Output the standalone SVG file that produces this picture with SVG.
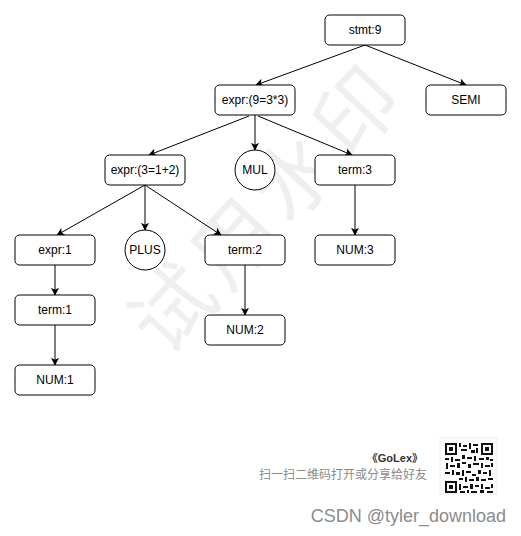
<svg xmlns="http://www.w3.org/2000/svg" width="521" height="536" viewBox="0 0 521 536">
<defs>
<marker id="arr" viewBox="0 0 10 10" refX="9" refY="5" markerWidth="8" markerHeight="8" markerUnits="userSpaceOnUse" orient="auto">
<path d="M0,0 L10,5 L0,10 L2.5,5 Z" fill="#000"/>
</marker>
<style>
.box{fill:#fff;stroke:#000;stroke-width:1}
.lbl{font-family:"Liberation Sans",Arial,sans-serif;font-size:12px;fill:#000;text-anchor:middle;dominant-baseline:central}
.edge{stroke:#000;stroke-width:1;fill:none;marker-end:url(#arr)}
.wm{font-family:"Noto Sans CJK SC",sans-serif;font-size:82px;fill:#efefef;text-anchor:middle;dominant-baseline:central}
</style>
</defs>
<rect width="521" height="536" fill="#fff"/>
<text class="wm" transform="translate(263,203) rotate(-47)" letter-spacing="8">试用水印</text>
<g id="connectors">
<line class="edge" x1="365" y1="45" x2="256" y2="85"/>
<line class="edge" x1="365" y1="45" x2="466" y2="85"/>
<line class="edge" x1="249" y1="116" x2="149" y2="155"/>
<line class="edge" x1="255" y1="115" x2="255" y2="150"/>
<line class="edge" x1="258" y1="116" x2="352" y2="155"/>
<line class="edge" x1="145" y1="185" x2="57" y2="235"/>
<line class="edge" x1="145" y1="185" x2="145" y2="230"/>
<line class="edge" x1="145" y1="185" x2="221" y2="235"/>
<line class="edge" x1="55" y1="265" x2="55" y2="295"/>
<line class="edge" x1="55" y1="325" x2="55" y2="365"/>
<line class="edge" x1="245" y1="265" x2="245" y2="315"/>
<line class="edge" x1="355" y1="185" x2="355" y2="235"/>
</g>
<g id="stmt"><rect class="box" x="325" y="15" width="80" height="30" rx="4.5"/><text class="lbl" x="365" y="30">stmt:9</text></g>
<g id="expr9"><rect class="box" x="215" y="85" width="80" height="30" rx="4.5"/><text class="lbl" x="255" y="100">expr:(9=3*3)</text></g>
<g id="semi"><rect class="box" x="426" y="85" width="80" height="30" rx="4.5"/><text class="lbl" x="466" y="100">SEMI</text></g>
<g id="expr3"><rect class="box" x="105" y="155" width="80" height="30" rx="4.5"/><text class="lbl" x="145" y="170">expr:(3=1+2)</text></g>
<g id="mul"><circle class="box" cx="255" cy="170" r="20"/><text class="lbl" x="255" y="170">MUL</text></g>
<g id="term3"><rect class="box" x="315" y="155" width="80" height="30" rx="4.5"/><text class="lbl" x="355" y="170">term:3</text></g>
<g id="expr1"><rect class="box" x="15" y="235" width="80" height="30" rx="4.5"/><text class="lbl" x="55" y="250">expr:1</text></g>
<g id="plus"><circle class="box" cx="145" cy="250" r="20"/><text class="lbl" x="145" y="250">PLUS</text></g>
<g id="term2"><rect class="box" x="205" y="235" width="80" height="30" rx="4.5"/><text class="lbl" x="245" y="250">term:2</text></g>
<g id="num3"><rect class="box" x="315" y="235" width="80" height="30" rx="4.5"/><text class="lbl" x="355" y="250">NUM:3</text></g>
<g id="term1"><rect class="box" x="15" y="295" width="80" height="30" rx="4.5"/><text class="lbl" x="55" y="310">term:1</text></g>
<g id="num2"><rect class="box" x="205" y="315" width="80" height="30" rx="4.5"/><text class="lbl" x="245" y="330">NUM:2</text></g>
<g id="num1"><rect class="box" x="15" y="365" width="80" height="30" rx="4.5"/><text class="lbl" x="55" y="380">NUM:1</text></g>
<g id="footer">
<text x="423" y="462" font-family="Liberation Sans,'Noto Sans CJK SC',sans-serif" font-size="11" font-weight="bold" fill="#333" text-anchor="end">《GoLex》</text>
<text x="427" y="479" font-family="'Noto Sans CJK SC',sans-serif" font-size="12" fill="#8a8a8a" text-anchor="end">扫一扫二维码打开或分享给好友</text>
<rect x="440" y="438" width="57" height="56" fill="#fff" stroke="#eee"/>
<g fill="#111">
<path d="M445,443h12v12h-12z M447,445v8h8v-8z M449,447h4v4h-4z" fill-rule="evenodd"/>
<path d="M481,443h12v12h-12z M483,445v8h8v-8z M485,447h4v4h-4z" fill-rule="evenodd"/>
<path d="M445,481h12v12h-12z M447,483v8h8v-8z M449,485h4v4h-4z" fill-rule="evenodd"/>
<rect x="459" y="443" width="2" height="4"/><rect x="463" y="445" width="4" height="2"/><rect x="469" y="443" width="2" height="6"/><rect x="473" y="444" width="5" height="2"/><rect x="461" y="449" width="6" height="2"/><rect x="471" y="450" width="4" height="3"/><rect x="476" y="448" width="2" height="5"/>
<rect x="445" y="458" width="4" height="2"/><rect x="451" y="457" width="2" height="5"/><rect x="455" y="459" width="5" height="2"/><rect x="462" y="455" width="3" height="4"/><rect x="467" y="457" width="5" height="2"/><rect x="474" y="456" width="2" height="5"/><rect x="479" y="458" width="5" height="2"/><rect x="486" y="457" width="3" height="3"/><rect x="490" y="459" width="3" height="2"/>
<rect x="446" y="463" width="2" height="6"/><rect x="450" y="465" width="5" height="2"/><rect x="457" y="463" width="3" height="5"/><rect x="462" y="462" width="4" height="2"/><rect x="468" y="464" width="3" height="4"/><rect x="473" y="463" width="6" height="2"/><rect x="481" y="463" width="2" height="5"/><rect x="485" y="465" width="5" height="2"/><rect x="491" y="463" width="2" height="4"/>
<rect x="445" y="472" width="5" height="2"/><rect x="452" y="470" width="2" height="5"/><rect x="456" y="472" width="4" height="3"/><rect x="462" y="470" width="2" height="6"/><rect x="466" y="471" width="5" height="2"/><rect x="472" y="474" width="4" height="2"/><rect x="478" y="470" width="3" height="4"/><rect x="483" y="472" width="4" height="2"/><rect x="489" y="470" width="2" height="6"/>
<rect x="459" y="478" width="4" height="2"/><rect x="465" y="477" width="2" height="5"/><rect x="469" y="479" width="5" height="2"/><rect x="476" y="477" width="3" height="4"/><rect x="481" y="479" width="5" height="2"/><rect x="488" y="478" width="5" height="2"/>
<rect x="459" y="484" width="2" height="6"/><rect x="463" y="486" width="5" height="2"/><rect x="470" y="484" width="3" height="5"/><rect x="475" y="485" width="4" height="2"/><rect x="481" y="484" width="2" height="5"/><rect x="485" y="487" width="5" height="2"/><rect x="491" y="484" width="2" height="4"/>
<rect x="460" y="491" width="5" height="2"/><rect x="467" y="490" width="2" height="3"/><rect x="471" y="491" width="6" height="2"/><rect x="480" y="490" width="4" height="3"/><rect x="487" y="491" width="6" height="2"/>
</g>
<text x="506" y="522" font-family="Liberation Sans,Arial,sans-serif" font-size="18" fill="#8c8c8c" text-anchor="end">CSDN @tyler_download</text>
</g>
</svg>
